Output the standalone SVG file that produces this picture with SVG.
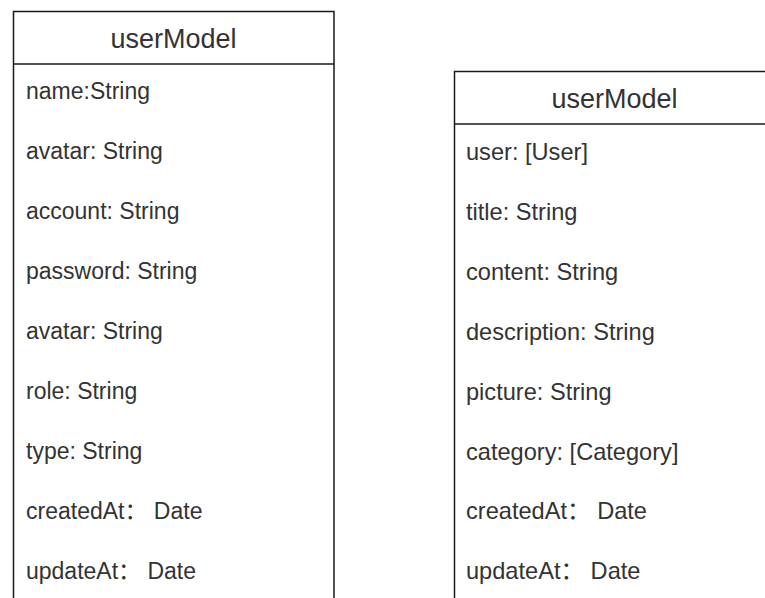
<svg xmlns="http://www.w3.org/2000/svg" width="765" height="598" viewBox="0 0 765 598">
<style>
.box{fill:#ffffff;stroke:#1a1a1a;stroke-width:1.5}
.hdr{font-family:"Liberation Sans","Noto Sans CJK SC",Arial,sans-serif;font-size:27px;fill:#333333;text-anchor:middle}
.row{font-family:"Liberation Sans","Noto Sans CJK SC",Arial,sans-serif;font-size:23px;fill:#333333}
.row2{font-size:23.6px}
</style>
<rect width="765" height="598" fill="#ffffff"/>
<g id="userModel1">
<rect class="box" x="13.5" y="11.5" width="320.5" height="620"/>
<line class="box" x1="13.5" y1="64" x2="334" y2="64"/>
<text class="hdr" x="173.5" y="48">userModel</text>
<text class="row" x="26" y="99">name:String</text>
<text class="row" x="26" y="159">avatar: String</text>
<text class="row" x="26" y="219">account: String</text>
<text class="row" x="26" y="279">password: String</text>
<text class="row" x="26" y="339">avatar: String</text>
<text class="row" x="26" y="399">role: String</text>
<text class="row" x="26" y="459">type: String</text>
<text class="row" x="26" y="519">createdAt： Date</text>
<text class="row" x="26" y="579">updateAt： Date</text>
</g>
<g id="userModel2">
<rect class="box" x="454.5" y="71.5" width="320.5" height="620"/>
<line class="box" x1="454.5" y1="124" x2="775" y2="124"/>
<text class="hdr" x="614.5" y="108">userModel</text>
<text class="row row2" x="466" y="160">user: [User]</text>
<text class="row row2" x="466" y="220">title: String</text>
<text class="row row2" x="466" y="280">content: String</text>
<text class="row row2" x="466" y="340">description: String</text>
<text class="row row2" x="466" y="400">picture: String</text>
<text class="row row2" x="466" y="460">category: [Category]</text>
<text class="row row2" x="466" y="519">createdAt： Date</text>
<text class="row row2" x="466" y="579">updateAt： Date</text>
</g>
<g id="connectors"></g>
</svg>
